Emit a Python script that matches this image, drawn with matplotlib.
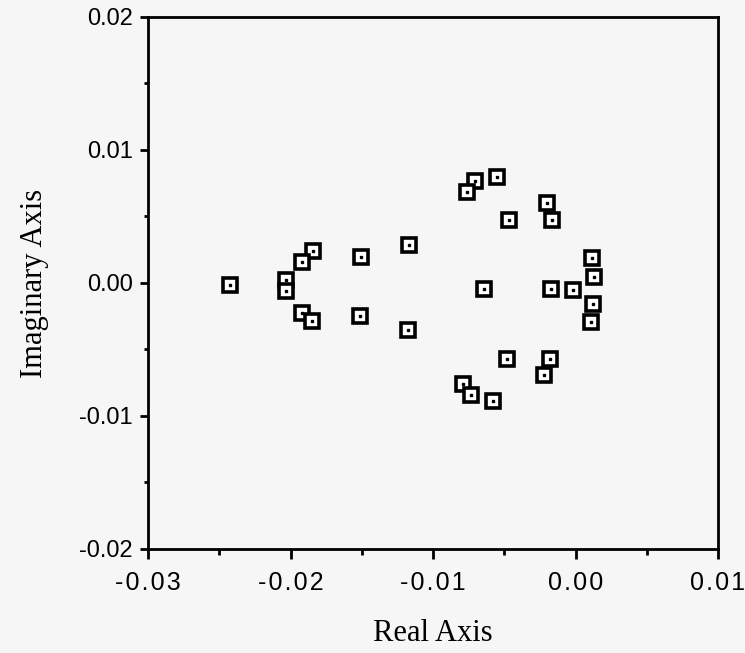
"""Pole map: real vs imaginary parts."""

from matplotlib import pyplot as plt
from matplotlib.ticker import MultipleLocator

real_part = [
    -0.00553, -0.00703, -0.00764, -0.00198, -0.00465, -0.00163,
    0.00116, 0.00130, -0.00640, -0.00170, -0.00020, 0.00125,
    0.00107, -0.00483, -0.00179, -0.00221, -0.00790, -0.00733,
    -0.00579, -0.02427, -0.01840, -0.01917, -0.02032, -0.02032,
    -0.01503, -0.01166, -0.01921, -0.01849, -0.01512, -0.01175,
]
imag_part = [
    0.00799, 0.00763, 0.00683, 0.00598, 0.00477, 0.00472,
    0.00186, 0.00044, -0.00044, -0.00049, -0.00054, -0.00156,
    -0.00295, -0.00570, -0.00575, -0.00695, -0.00763, -0.00846,
    -0.00886, -0.00017, 0.00237, 0.00156, 0.00021, -0.00062,
    0.00192, 0.00287, -0.00222, -0.00284, -0.00250, -0.00355,
]

fig = plt.figure(figsize=(7.45, 6.53), dpi=100)
fig.patch.set_facecolor("#f6f6f6")
ax = fig.add_axes([0.1987, 0.1593, 0.7651, 0.8147])
ax.set_facecolor("#f6f6f6")

ax.plot(real_part, imag_part, linestyle="none", marker="s", markersize=9.5,
        markerfacecolor="white", markeredgecolor="black", markeredgewidth=2.6)
ax.plot(real_part, imag_part, linestyle="none", marker="s", markersize=2,
        markerfacecolor="black", markeredgecolor="black")

ax.set_xlim(-0.03, 0.01)
ax.set_ylim(-0.02, 0.02)
ax.xaxis.set_major_locator(MultipleLocator(0.01))
ax.xaxis.set_minor_locator(MultipleLocator(0.005))
ax.yaxis.set_major_locator(MultipleLocator(0.01))
ax.yaxis.set_minor_locator(MultipleLocator(0.005))
# x labels are slightly letter-spaced in the original
ax.xaxis.set_major_formatter(lambda v, pos: "\u200a".join(f"{v:.2f}"))
ax.yaxis.set_major_formatter(lambda v, pos: f"{v:.2f}")

for side in ax.spines.values():
    side.set_linewidth(2.0)
ax.tick_params(which="both", direction="out", width=2.0)
ax.tick_params(axis="x", which="major", length=7, pad=9, labelsize=18)
ax.tick_params(axis="y", which="major", length=6, pad=5, labelsize=17)
ax.tick_params(axis="x", which="minor", length=4)
ax.tick_params(axis="y", which="minor", length=3)
for lbl in ax.get_xticklabels() + ax.get_yticklabels():
    lbl.set_fontfamily(["Liberation Sans", "DejaVu Sans"])

ax.set_xlabel("Real Axis", fontfamily="Liberation Serif", fontsize=22, labelpad=17)
ax.set_ylabel("Imaginary Axis", fontfamily="Liberation Serif", fontsize=22, labelpad=22)

fig.savefig("out.png", dpi=100, facecolor=fig.get_facecolor())
